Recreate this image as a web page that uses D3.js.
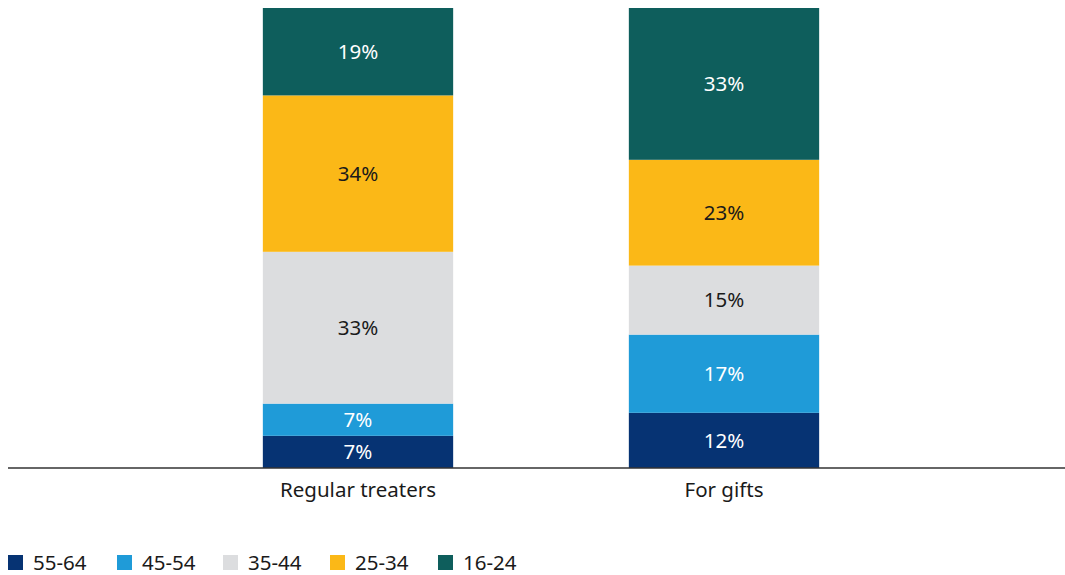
<!DOCTYPE html>
<html>
<head>
<meta charset="utf-8">
<script src="https://cdn.jsdelivr.net/npm/d3@7"></script>
<style>
  html, body { margin: 0; padding: 0; background: #fff; }
  svg { display: block; font-family: "Noto Sans", "Open Sans", sans-serif; }
</style>
</head>
<body>
<svg id="chart" width="1065" height="575"></svg>
<script>
// Share of each age group, stacked bottom (55-64) to top (16-24)
const categories = ["Regular treaters", "For gifts"];
const ageGroups = ["55-64", "45-54", "35-44", "25-34", "16-24"];
const regularTreaters = [7, 7, 33, 34, 19];
const forGifts = [12, 17, 15, 23, 33];
const seriesByCategory = [regularTreaters, forGifts];

const colors = ["#063373", "#1f9bd8", "#dcdddf", "#fbb817", "#0e5e5c"];
const labelColors = ["#ffffff", "#ffffff", "#1a1a1a", "#1a1a1a", "#ffffff"];
const fontFamily = "'Noto Sans', 'Open Sans', sans-serif";

const svg = d3.select("#chart");

const x = d3.scaleBand()
  .domain(categories)
  .range([175, 907])
  .paddingInner(0.48)
  .paddingOuter(0.24);

const y = d3.scaleLinear().domain([0, 100]).range([468, 8]);

// Build stack input: one row per category
const rows = categories.map((c, i) => {
  const r = { category: c };
  ageGroups.forEach((g, j) => { r[g] = seriesByCategory[i][j]; });
  return r;
});
const stacked = d3.stack().keys(ageGroups)(rows);

const layers = svg.append("g")
  .selectAll("g")
  .data(stacked)
  .join("g")
  .attr("fill", (d, i) => colors[i]);

layers.selectAll("rect")
  .data(d => d)
  .join("rect")
  .attr("x", d => x(d.data.category))
  .attr("width", x.bandwidth())
  .attr("y", d => y(d[1]))
  .attr("height", d => y(d[0]) - y(d[1]));

layers.each(function(layer, i) {
  d3.select(this).selectAll("text")
    .data(layer)
    .join("text")
    .attr("x", d => x(d.data.category) + x.bandwidth() / 2)
    .attr("y", d => (y(d[0]) + y(d[1])) / 2)
    .attr("dy", "0.36em")
    .attr("text-anchor", "middle")
    .attr("font-size", 20.5)
    .attr("fill", labelColors[i])
    .text(d => (d[1] - d[0]) + "%");
});

// Baseline axis
const xAxis = d3.axisBottom(x).tickSize(0).tickPadding(14);
const axisG = svg.append("g")
  .attr("transform", "translate(0,468)")
  .call(xAxis);
axisG.select(".domain").remove();
axisG.selectAll("text")
  .attr("font-size", 20.5)
  .attr("font-family", fontFamily)
  .attr("fill", "#1a1a1a");
axisG.append("line")
  .attr("x1", 8).attr("x2", 1065)
  .attr("y1", 0).attr("y2", 0)
  .attr("stroke", "#333")
  .attr("stroke-width", 1.5);

// Legend
const legendX = [8, 117, 223, 330, 438];
const legend = svg.append("g").attr("transform", "translate(0,555)");
const items = legend.selectAll("g")
  .data(ageGroups)
  .join("g")
  .attr("transform", (d, i) => `translate(${legendX[i]},0)`);
items.append("rect")
  .attr("width", 15).attr("height", 15)
  .attr("fill", (d, i) => colors[i]);
items.append("text")
  .attr("x", 25)
  .attr("y", 8)
  .attr("dy", "0.36em")
  .attr("font-size", 20.5)
  .attr("fill", "#1a1a1a")
  .text(d => d);
</script>
</body>
</html>
